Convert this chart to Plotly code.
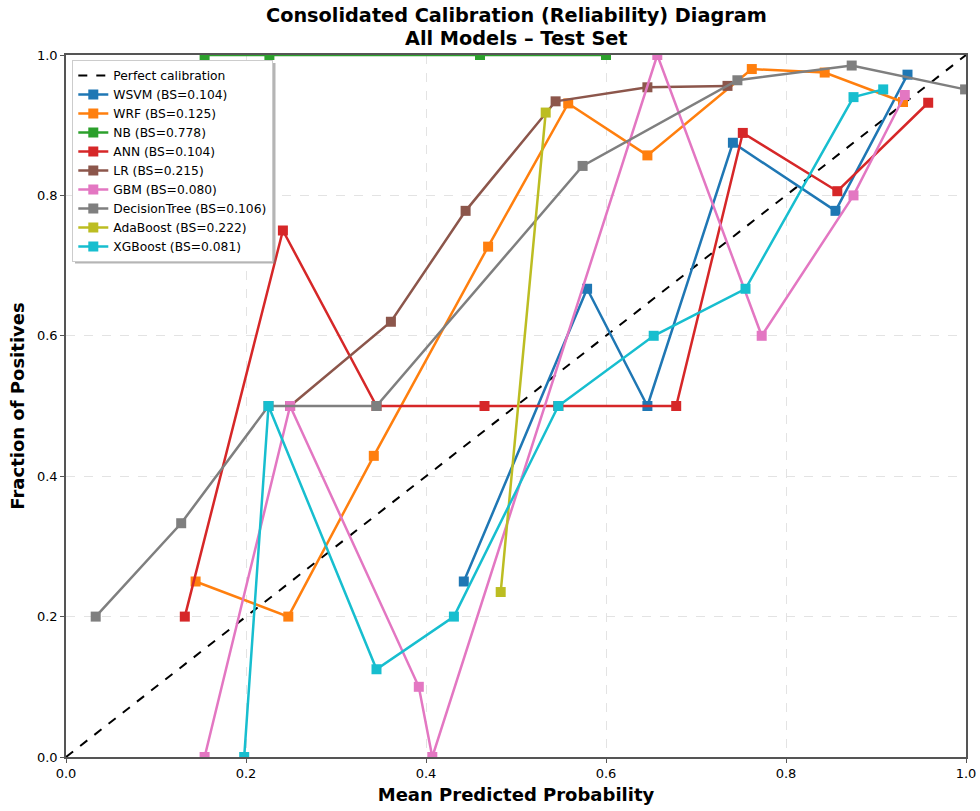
import plotly.graph_objects as go

# ---- data ----
wsvm_x = [0.442, 0.579, 0.646, 0.741, 0.855, 0.935]
wsvm_y = [0.25, 0.667, 0.5, 0.875, 0.778, 0.972]

wrf_x = [0.144, 0.247, 0.342, 0.469, 0.558, 0.646, 0.762, 0.843, 0.930]
wrf_y = [0.25, 0.2, 0.429, 0.727, 0.931, 0.857, 0.980, 0.975, 0.933]

nb_x = [0.154, 0.226, 0.460, 0.600]
nb_y = [1.0, 1.0, 1.0, 1.0]

ann_x = [0.132, 0.241, 0.345, 0.465, 0.547, 0.678, 0.752, 0.857, 0.958]
ann_y = [0.2, 0.75, 0.5, 0.5, 0.5, 0.5, 0.889, 0.806, 0.932]

lr_x = [0.249, 0.361, 0.444, 0.544, 0.646, 0.735]
lr_y = [0.5, 0.62, 0.778, 0.934, 0.954, 0.956]

gbm_x = [0.154, 0.249, 0.392, 0.407, 0.657, 0.773, 0.875, 0.932]
gbm_y = [0.0, 0.5, 0.1, 0.0, 1.0, 0.6, 0.8, 0.943]

dt_x = [0.033, 0.128, 0.225, 0.345, 0.574, 0.746, 0.873, 0.999]
dt_y = [0.2, 0.333, 0.5, 0.5, 0.842, 0.964, 0.985, 0.951]

ada_x = [0.483, 0.533]
ada_y = [0.235, 0.918]

xgb_x = [0.198, 0.225, 0.345, 0.431, 0.547, 0.653, 0.755, 0.875, 0.908]
xgb_y = [0.0, 0.5, 0.125, 0.2, 0.5, 0.6, 0.667, 0.940, 0.951]

models = ["WSVM", "WRF", "NB", "ANN", "LR", "GBM", "DecisionTree", "AdaBoost", "XGBoost"]
brier = [0.104, 0.125, 0.778, 0.104, 0.215, 0.080, 0.106, 0.222, 0.081]
colors = ["#1f77b4", "#ff7f0e", "#2ca02c", "#d62728", "#8c564b",
          "#e377c2", "#7f7f7f", "#bcbd22", "#17becf"]
xs = [wsvm_x, wrf_x, nb_x, ann_x, lr_x, gbm_x, dt_x, ada_x, xgb_x]
ys = [wsvm_y, wrf_y, nb_y, ann_y, lr_y, gbm_y, dt_y, ada_y, xgb_y]

ticks = [0.0, 0.2, 0.4, 0.6, 0.8, 1.0]
tick_labels = ["0.0", "0.2", "0.4", "0.6", "0.8", "1.0"]

title_lines = ["Consolidated Calibration (Reliability) Diagram", "All Models – Test Set"]

fig = go.Figure()
fig.add_trace(go.Scatter(x=[0, 1], y=[0, 1], mode="lines",
                         line=dict(color="black", dash="dash", width=2),
                         name="Perfect calibration"))
for m, b, c, x, y in zip(models, brier, colors, xs, ys):
    fig.add_trace(go.Scatter(x=x, y=y, mode="lines+markers",
                             line=dict(color=c, width=2.5),
                             marker=dict(symbol="square", size=10, color=c),
                             name=f"{m} (BS={b:.3f})"))

font = "DejaVu Sans"
L, R, T, B = 66, 14, 55, 54
W, H = 980, 811
pw, ph = W - L - R, H - T - B


def px_x(p):
    return (p - L) / pw


def px_y(p):
    return (H - B - p) / ph


# legend shadow
fig.add_shape(type="rect", xref="paper", yref="paper",
              x0=px_x(75), x1=px_x(275.5), y0=px_y(263.5), y1=px_y(63),
              fillcolor="rgba(120,120,120,0.55)", line=dict(width=0), layer="above")

# two-line bold title
for i, line in enumerate(title_lines):
    fig.add_annotation(text="<b>" + line + "</b>",
                       xref="paper", yref="paper", x=0.5, y=px_y([16, 38][i]),
                       xanchor="center", yanchor="middle", showarrow=False,
                       font=dict(size=19.3, family=font, color="black"))

fig.update_layout(
    width=W, height=H,
    margin=dict(l=L, r=R, t=T, b=B),
    paper_bgcolor="white", plot_bgcolor="white",
    font=dict(family=font, color="black"),
    legend=dict(x=0.007, y=0.993, xanchor="left", yanchor="top",
                bgcolor="white", bordercolor="#cccccc", borderwidth=1,
                font=dict(size=12.3, family=font), tracegroupgap=0,
                itemwidth=30),
    xaxis=dict(range=[0, 1], tickvals=ticks, ticktext=tick_labels, automargin=False,
               showgrid=True, gridcolor="#e3e3e3", griddash="dash",
               showline=True, linecolor="#555555", linewidth=1.5, mirror=True,
               ticks="outside", ticklen=4, tickcolor="#555555",
               tickfont=dict(size=13), zeroline=False,
               title=dict(text="<b>Mean Predicted Probability</b>", font=dict(size=18), standoff=8)),
    yaxis=dict(range=[0, 1], tickvals=ticks, ticktext=tick_labels, automargin=False,
               showgrid=True, gridcolor="#e3e3e3", griddash="dash",
               showline=True, linecolor="#555555", linewidth=1.5, mirror=True,
               ticks="outside", ticklen=4, tickcolor="#555555",
               tickfont=dict(size=13), zeroline=False,
               title=dict(text="<b>Fraction of Positives</b>", font=dict(size=18), standoff=8)),
)
fig.write_html("out.html")
